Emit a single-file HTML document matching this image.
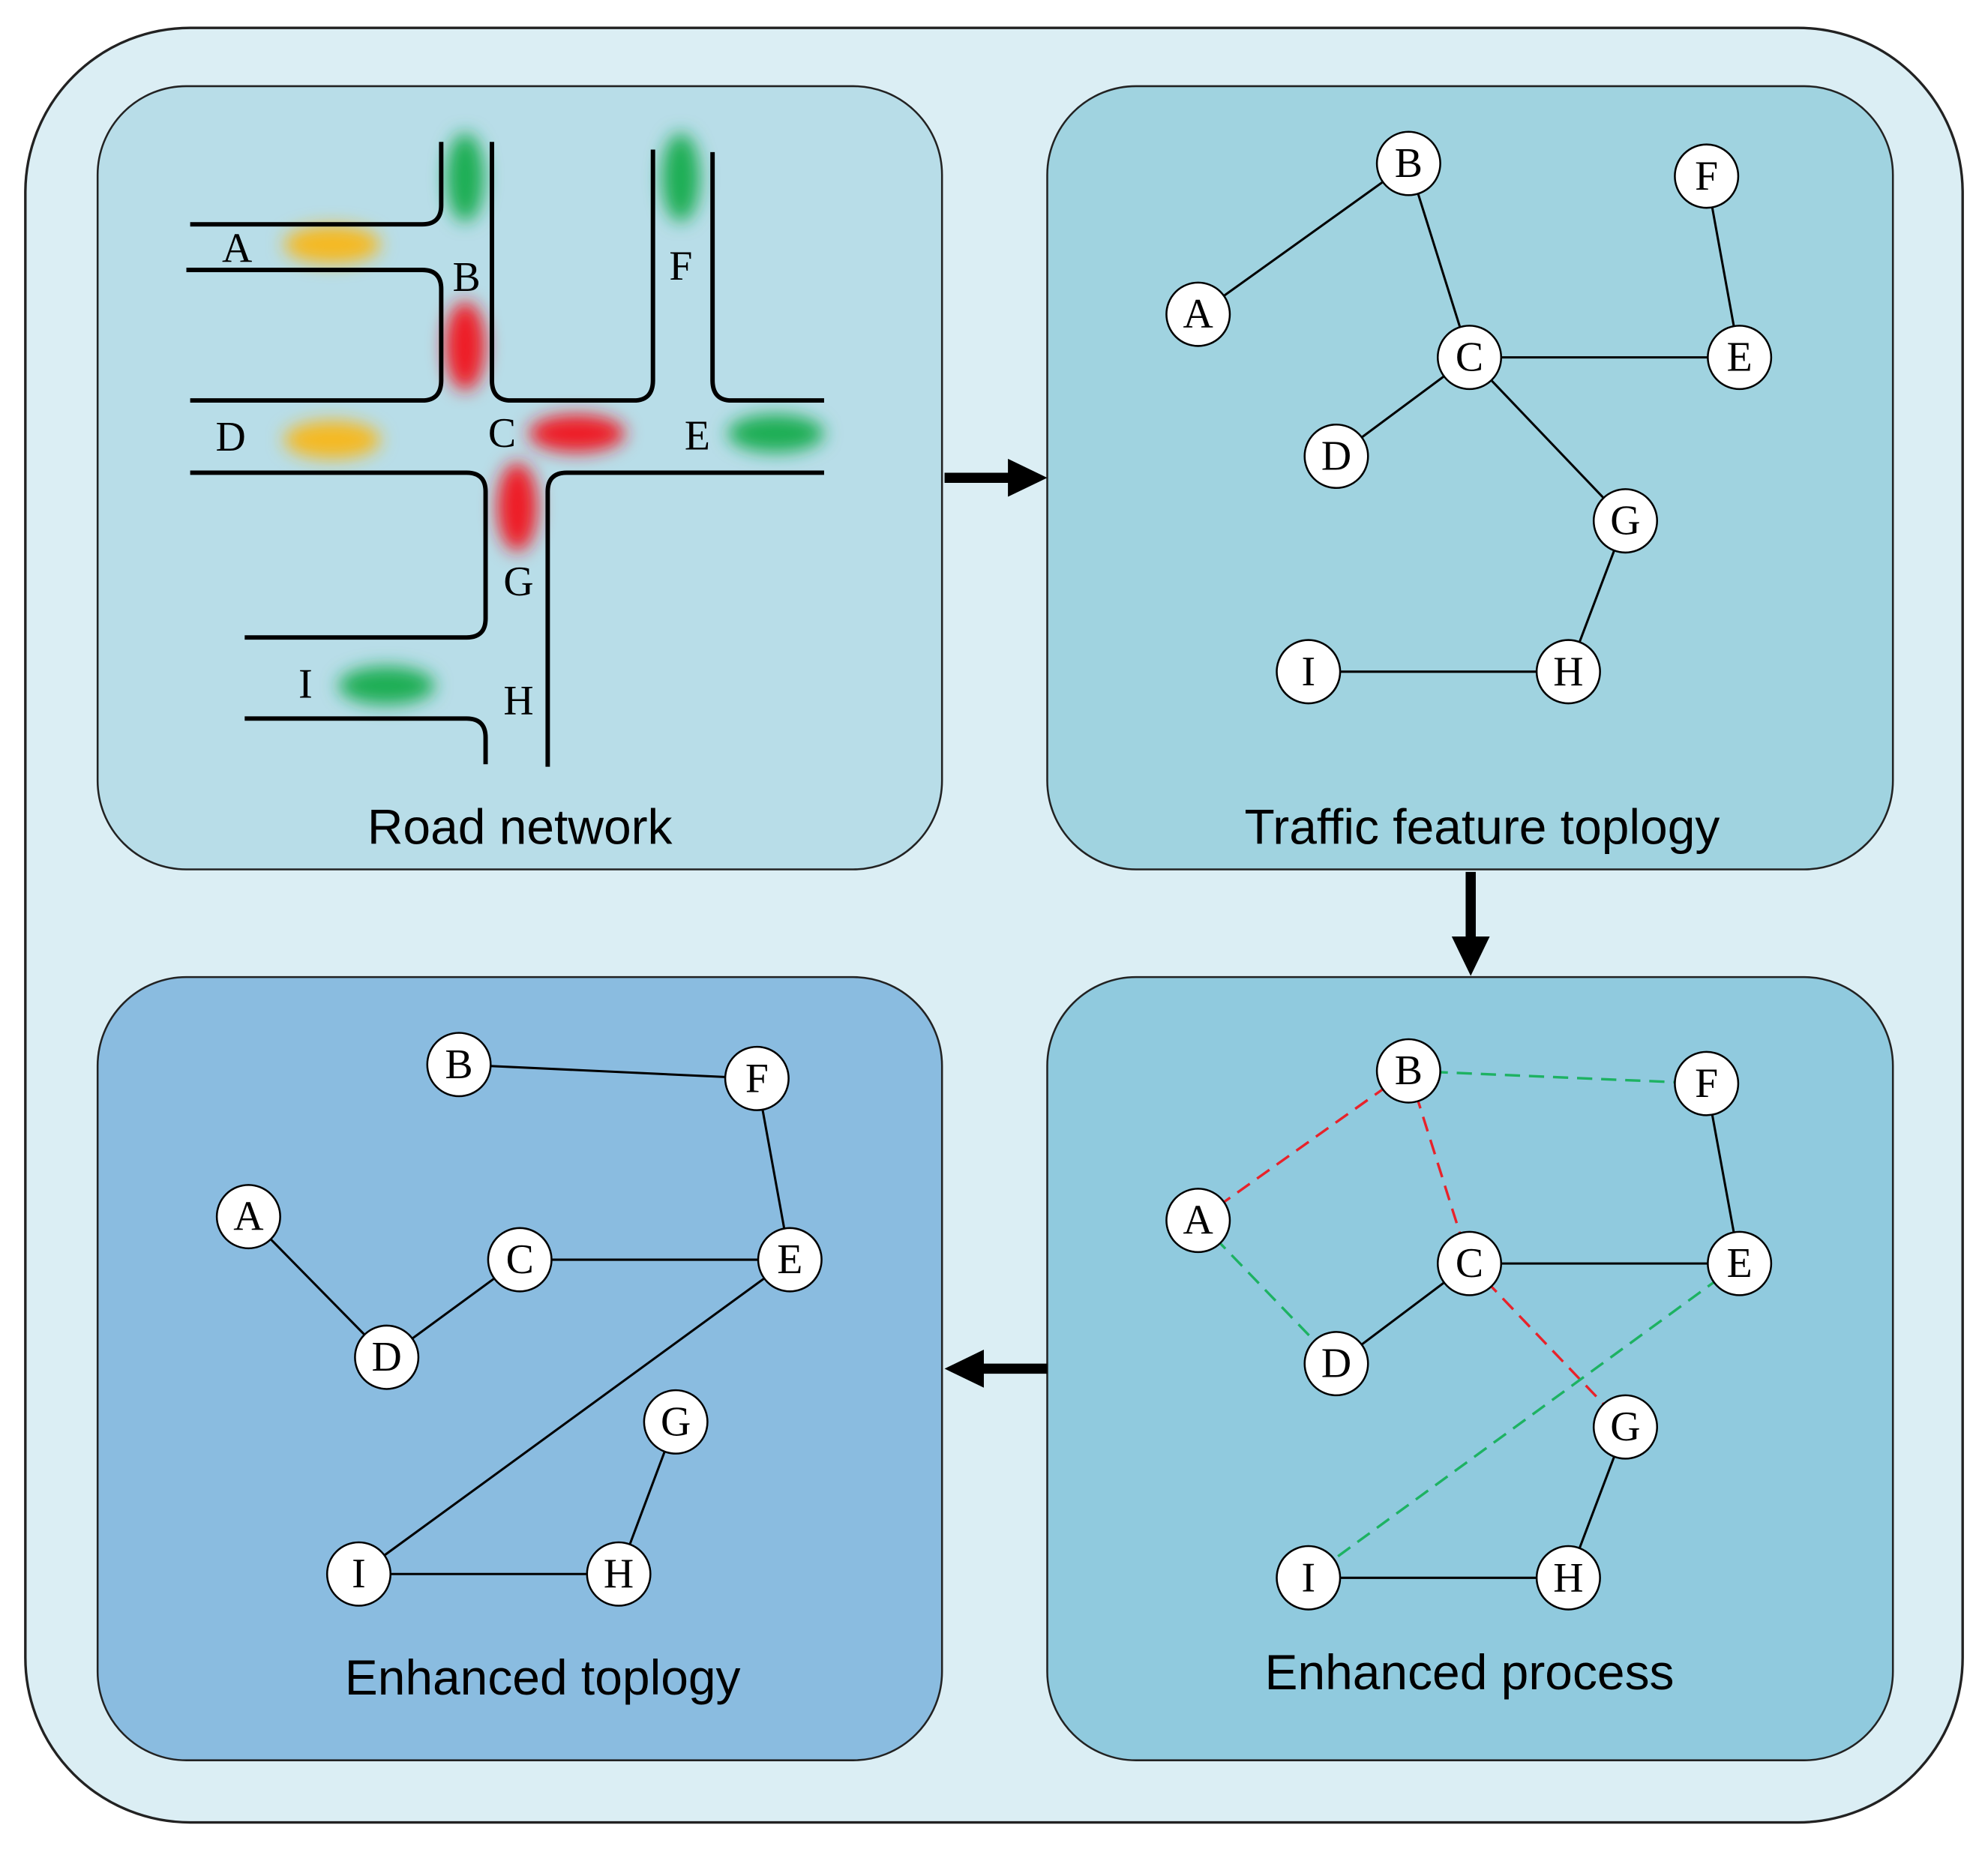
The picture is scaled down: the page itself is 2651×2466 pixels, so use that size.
<!DOCTYPE html>
<html><head><meta charset="utf-8"><style>
html,body{margin:0;padding:0;background:#fff;}
svg{display:block;}
.n circle{fill:#fff;stroke:#000;stroke-width:1.5;}
.n text,.lbl{font-family:"Liberation Serif",serif;font-size:33px;text-anchor:middle;dominant-baseline:central;fill:#000;}
.t{font-family:"Liberation Sans",sans-serif;font-size:39px;text-anchor:middle;fill:#000;}
.e{stroke:#000;stroke-width:1.8;fill:none;}
.r{stroke:#e8222a;stroke-width:2;stroke-dasharray:12 7;fill:none;}
.g{stroke:#1db262;stroke-width:2;stroke-dasharray:12 7;fill:none;}
.road{stroke:#000;stroke-width:3.5;fill:none;}
</style></head><body>
<svg width="2651" height="2466" viewBox="0 0 1568 1459" preserveAspectRatio="none" xmlns="http://www.w3.org/2000/svg">
<defs><filter id="bl" x="-60%" y="-60%" width="220%" height="220%"><feGaussianBlur stdDeviation="7"/></filter></defs>
<rect x="20" y="22" width="1528" height="1416" rx="130" fill="#dbeef4" stroke="#222" stroke-width="2"/>
<rect x="77" y="68" width="666" height="618" rx="70" fill="#b8dde8" stroke="#222" stroke-width="1.5"/>
<rect x="826" y="68" width="667" height="618" rx="70" fill="#a0d3e0" stroke="#222" stroke-width="1.5"/>
<rect x="826" y="771" width="667" height="618" rx="70" fill="#90cade" stroke="#222" stroke-width="1.5"/>
<rect x="77" y="771" width="666" height="618" rx="70" fill="#8abce0" stroke="#222" stroke-width="1.5"/>
<line x1="745" y1="377" x2="798" y2="377" stroke="#000" stroke-width="8"/><path d="M795,362 L826,377 L795,392 z"/>
<line x1="1160" y1="688" x2="1160" y2="742" stroke="#000" stroke-width="8"/><path d="M1145,739 L1160,770 L1175,739 z"/>
<line x1="826" y1="1080" x2="773" y2="1080" stroke="#000" stroke-width="8"/><path d="M776,1065 L745,1080 L776,1095 z"/>
<g filter="url(#bl)">
<ellipse cx="262" cy="193" rx="38" ry="15" fill="#f5b921"/>
<ellipse cx="262" cy="347" rx="38" ry="15" fill="#f5b921"/>
<ellipse cx="367" cy="140" rx="15" ry="35" fill="#1fae55"/>
<ellipse cx="537" cy="140" rx="15" ry="35" fill="#1fae55"/>
<ellipse cx="367" cy="273" rx="16" ry="35" fill="#ee1c25"/>
<ellipse cx="455" cy="342" rx="38" ry="15" fill="#ee1c25"/>
<ellipse cx="612" cy="342" rx="38" ry="15" fill="#1fae55"/>
<ellipse cx="408" cy="400" rx="16" ry="35" fill="#ee1c25"/>
<ellipse cx="305" cy="541" rx="38" ry="15" fill="#1fae55"/>
</g>
<path class="road" d="M150,177 L333,177 Q348,177 348,162 L348,112"/>
<path class="road" d="M147,213 L333,213 Q348,213 348,228 L348,300 Q348,316 333,316 L150,316"/>
<path class="road" d="M388,112 L388,300 Q388,316 403,316 L500,316 Q515,316 515,300 L515,118"/>
<path class="road" d="M562,120 L562,300 Q562,316 577,316 L650,316"/>
<path class="road" d="M150,373 L368,373 Q383,373 383,388 L383,488 Q383,503 368,503 L193,503"/>
<path class="road" d="M650,373 L447,373 Q432,373 432,388 L432,605"/>
<path class="road" d="M193,567 L368,567 Q383,567 383,582 L383,603"/>
<text class="lbl" x="187" y="196">A</text><text class="lbl" x="368" y="219">B</text><text class="lbl" x="537" y="210">F</text>
<text class="lbl" x="182" y="345">D</text><text class="lbl" x="396" y="342">C</text><text class="lbl" x="550" y="344">E</text>
<text class="lbl" x="409" y="459">G</text><text class="lbl" x="241" y="540">I</text><text class="lbl" x="409" y="553">H</text>
<text class="t" x="410" y="666">Road network</text>
<text class="t" x="1169" y="666">Traffic feature toplogy</text>
<text class="t" x="428" y="1337">Enhanced toplogy</text>
<text class="t" x="1159" y="1333">Enhanced process</text>
<g class="e"><path d="M945,248L1111,129M1111,129L1159,282M1159,282L1372,282M1346,139L1372,282M1159,282L1054,360M1159,282L1282,411M1282,411L1237,530M1032,530L1237,530"/></g>
<g class="n">
<circle cx="1111" cy="129" r="25"/><text x="1111" y="129">B</text>
<circle cx="1346" cy="139" r="25"/><text x="1346" y="139">F</text>
<circle cx="945" cy="248" r="25"/><text x="945" y="248">A</text>
<circle cx="1159" cy="282" r="25"/><text x="1159" y="282">C</text>
<circle cx="1372" cy="282" r="25"/><text x="1372" y="282">E</text>
<circle cx="1054" cy="360" r="25"/><text x="1054" y="360">D</text>
<circle cx="1282" cy="411" r="25"/><text x="1282" y="411">G</text>
<circle cx="1032" cy="530" r="25"/><text x="1032" y="530">I</text>
<circle cx="1237" cy="530" r="25"/><text x="1237" y="530">H</text>
</g>
<path class="r" d="M945,963L1111,845M1111,845L1159,997M1159,997L1282,1126"/>
<path class="g" d="M1111,845L1346,855M945,963L1054,1076M1372,997L1032,1245"/>
<g class="e"><path d="M1159,997L1372,997M1346,855L1372,997M1159,997L1054,1076M1282,1126L1237,1245M1032,1245L1237,1245"/></g>
<g class="n">
<circle cx="1111" cy="845" r="25"/><text x="1111" y="845">B</text>
<circle cx="1346" cy="855" r="25"/><text x="1346" y="855">F</text>
<circle cx="945" cy="963" r="25"/><text x="945" y="963">A</text>
<circle cx="1159" cy="997" r="25"/><text x="1159" y="997">C</text>
<circle cx="1372" cy="997" r="25"/><text x="1372" y="997">E</text>
<circle cx="1054" cy="1076" r="25"/><text x="1054" y="1076">D</text>
<circle cx="1282" cy="1126" r="25"/><text x="1282" y="1126">G</text>
<circle cx="1032" cy="1245" r="25"/><text x="1032" y="1245">I</text>
<circle cx="1237" cy="1245" r="25"/><text x="1237" y="1245">H</text>
</g>
<g class="e"><path d="M362,840L597,851M597,851L623,994M196,960L305,1071M305,1071L410,994M410,994L623,994M623,994L283,1242M283,1242L488,1242M533,1122L488,1242"/></g>
<g class="n">
<circle cx="362" cy="840" r="25"/><text x="362" y="840">B</text>
<circle cx="597" cy="851" r="25"/><text x="597" y="851">F</text>
<circle cx="196" cy="960" r="25"/><text x="196" y="960">A</text>
<circle cx="410" cy="994" r="25"/><text x="410" y="994">C</text>
<circle cx="623" cy="994" r="25"/><text x="623" y="994">E</text>
<circle cx="305" cy="1071" r="25"/><text x="305" y="1071">D</text>
<circle cx="533" cy="1122" r="25"/><text x="533" y="1122">G</text>
<circle cx="283" cy="1242" r="25"/><text x="283" y="1242">I</text>
<circle cx="488" cy="1242" r="25"/><text x="488" y="1242">H</text>
</g>
</svg>
</body></html>
